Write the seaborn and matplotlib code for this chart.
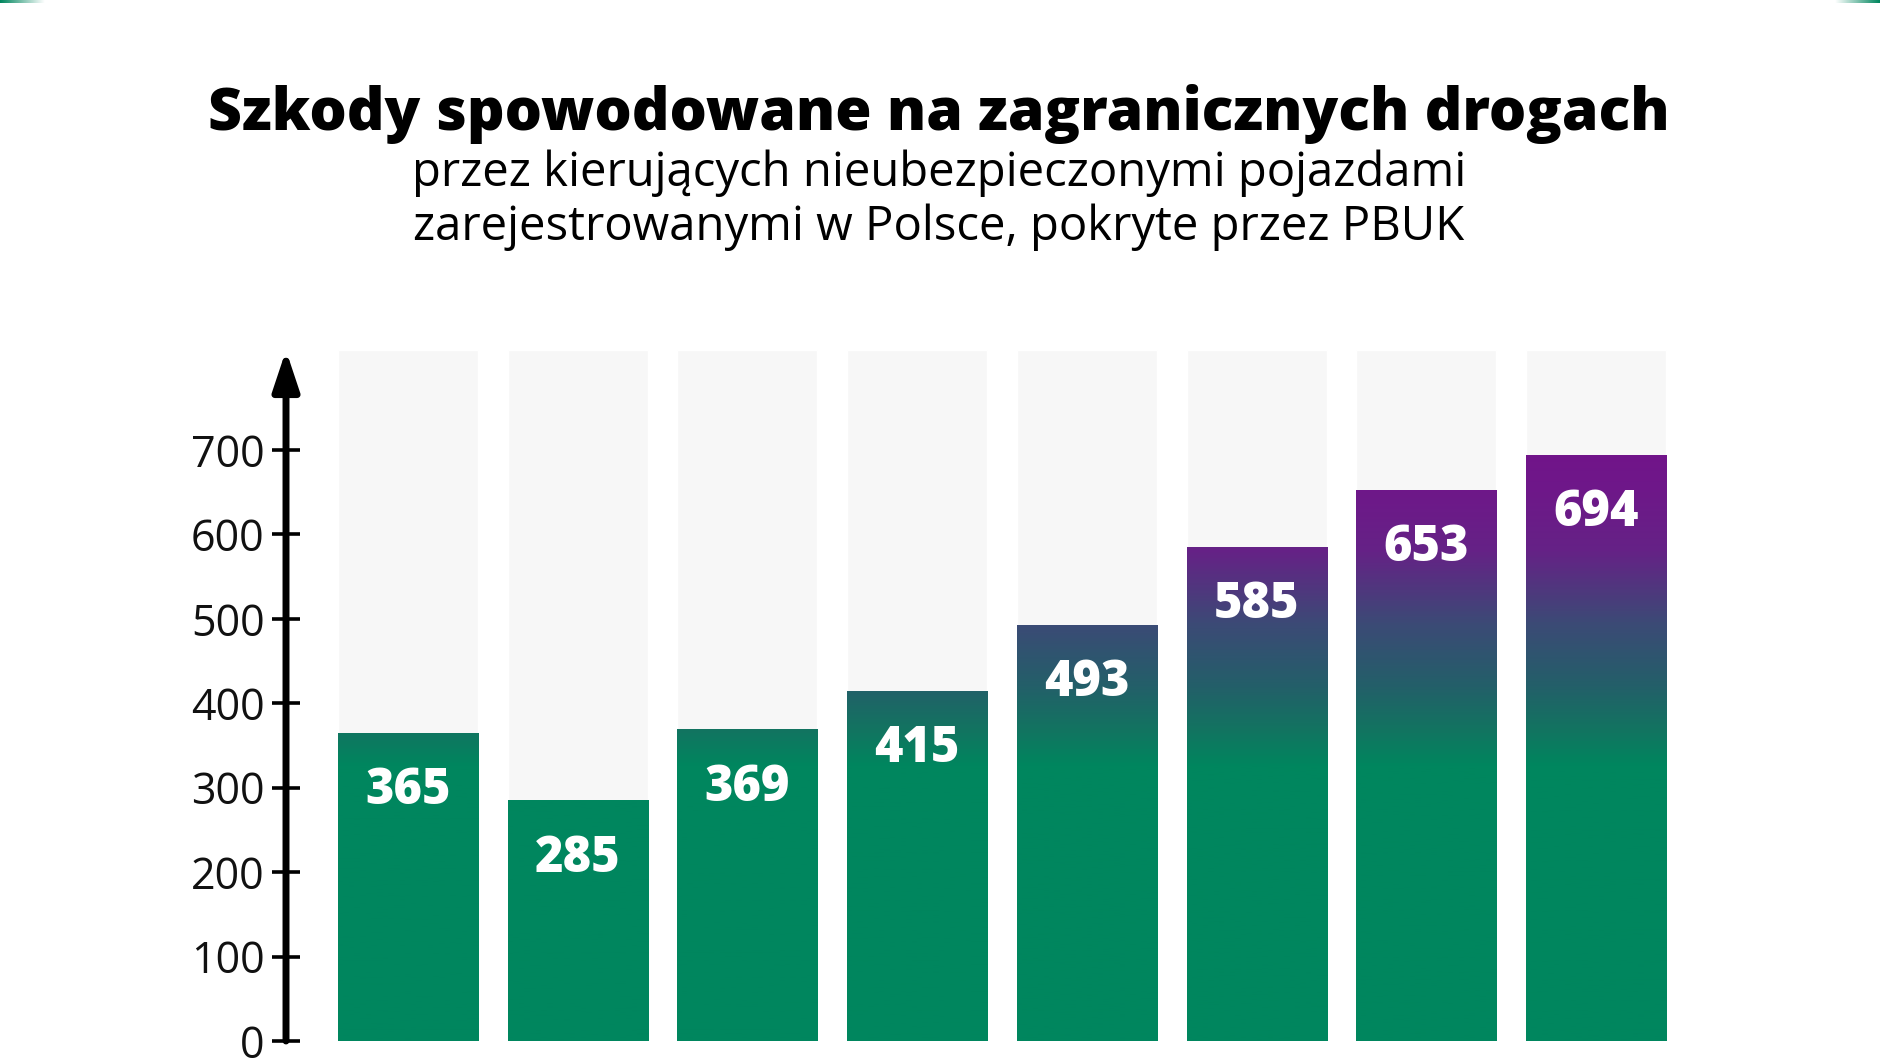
import numpy as np
import matplotlib
matplotlib.use("Agg")
import matplotlib.pyplot as plt
import matplotlib.transforms as mtransforms
from matplotlib.colors import LinearSegmentedColormap
import seaborn as sns

# ---- data ----
categories = ["1", "2", "3", "4", "5", "6", "7", "8"]
values = [365, 285, 369, 415, 493, 585, 653, 694]
background_level = [818] * len(categories)
yticks = [0, 100, 200, 300, 400, 500, 600, 700]
title = "Szkody spowodowane na zagranicznych drogach"
subtitle_1 = "przez kierujących nieubezpieczonymi pojazdami"
subtitle_2 = "zarejestrowanymi w Polsce, pokryte przez PBUK"

sns.set_theme(style="white")
plt.rcParams["font.family"] = ["Open Sans", "DejaVu Sans"]

W, H = 1880, 1060
fig = plt.figure(figsize=(W / 100, H / 100), dpi=100)
fig.patch.set_facecolor("white")

ax_left, ax_right = 286, 1681
ax_bottom_px, ymax = 1041, 818
px_per_unit = 0.8444
ax_top_px = ax_bottom_px - ymax * px_per_unit
ax = fig.add_axes([ax_left / W, (H - ax_bottom_px) / H,
                   (ax_right - ax_left) / W, (ax_bottom_px - ax_top_px) / H])

bar_w = 0.825
sns.barplot(x=categories, y=background_level, color="#f7f7f7", width=bar_w,
            saturation=1, errorbar=None, ax=ax, zorder=1)
n_bg = len(ax.patches)
sns.barplot(x=categories, y=values, color="#00865e", width=bar_w,
            saturation=1, errorbar=None, ax=ax, zorder=2)
bars = ax.patches[n_bg:]

xlim = (-0.7189, 7.501)
ax.set_xlim(*xlim)
ax.set_ylim(0, ymax)

# vertical gradient (by value level)
stops = [(0, "#00865e"), (325, "#00865e"), (370, "#137361"), (420, "#235f69"),
         (495, "#3c4a76"), (580, "#652286"), (650, "#6e1889"), (818, "#7a0a8c")]
cmap = LinearSegmentedColormap.from_list(
    "grad", [(v / ymax, c) for v, c in stops])
grad = np.linspace(0, 1, 512).reshape(-1, 1)
for p in bars:
    p.set_facecolor("none")
    p.set_edgecolor("none")
    im = ax.imshow(grad, cmap=cmap, vmin=0, vmax=1, origin="lower",
                   extent=(xlim[0], xlim[1], 0, ymax), aspect="auto", zorder=2)
    im.set_clip_path(p)
ax.set_xlim(*xlim)
ax.set_ylim(0, ymax)

# value labels
for p, v in zip(bars, values):
    cx = p.get_x() + p.get_width() / 2
    ax.annotate(f"{v}", xy=(cx, v), xytext=(0, -42), textcoords="offset points",
                ha="center", va="center", color="white", fontsize=35,
                fontweight="heavy", zorder=5)

# axes styling
for s in ax.spines.values():
    s.set_visible(False)
ax.set_xticks([])
ax.set_xlabel("")
ax.set_ylabel("")
ax.set_yticks(yticks)
ax.set_yticklabels([str(t) for t in yticks])
ax.tick_params(axis="y", direction="inout", length=20, width=2.6, color="black",
               labelsize=31, labelcolor="#111111", pad=5.5, left=True)

trans = mtransforms.blended_transform_factory(ax.transAxes, ax.transData)
ax.annotate("", xy=(0, ymax), xytext=(0, 0), xycoords=trans, textcoords=trans,
            arrowprops=dict(arrowstyle="-|>,head_length=2.4,head_width=0.8",
                            lw=5, color="black", shrinkA=0, shrinkB=0,
                            mutation_scale=10),
            annotation_clip=False, zorder=6)

# titles
fig.text(0.4995, 1 - 130 / H, title, ha="center", va="baseline", fontsize=42.3,
         fontweight="heavy", color="black")
fig.text(0.4995, 1 - 186 / H, subtitle_1, ha="center", va="baseline", fontsize=34,
         fontweight="medium", color="black")
fig.text(0.4995, 1 - 240 / H, subtitle_2, ha="center", va="baseline", fontsize=34,
         fontweight="medium", color="black")

# thin green corner accents
corner = np.linspace(1, 0, 64).reshape(1, -1)
green = LinearSegmentedColormap.from_list("g", ["#ffffff", "#00865e"])
axl = fig.add_axes([0, 1 - 3 / H, 45 / W, 3 / H])
axl.imshow(corner, cmap=green, aspect="auto", vmin=0, vmax=1)
axl.axis("off")
axr = fig.add_axes([1 - 45 / W, 1 - 3 / H, 45 / W, 3 / H])
axr.imshow(corner[:, ::-1], cmap=green, aspect="auto", vmin=0, vmax=1)
axr.axis("off")

fig.savefig("out.png", dpi=100, facecolor="white")
